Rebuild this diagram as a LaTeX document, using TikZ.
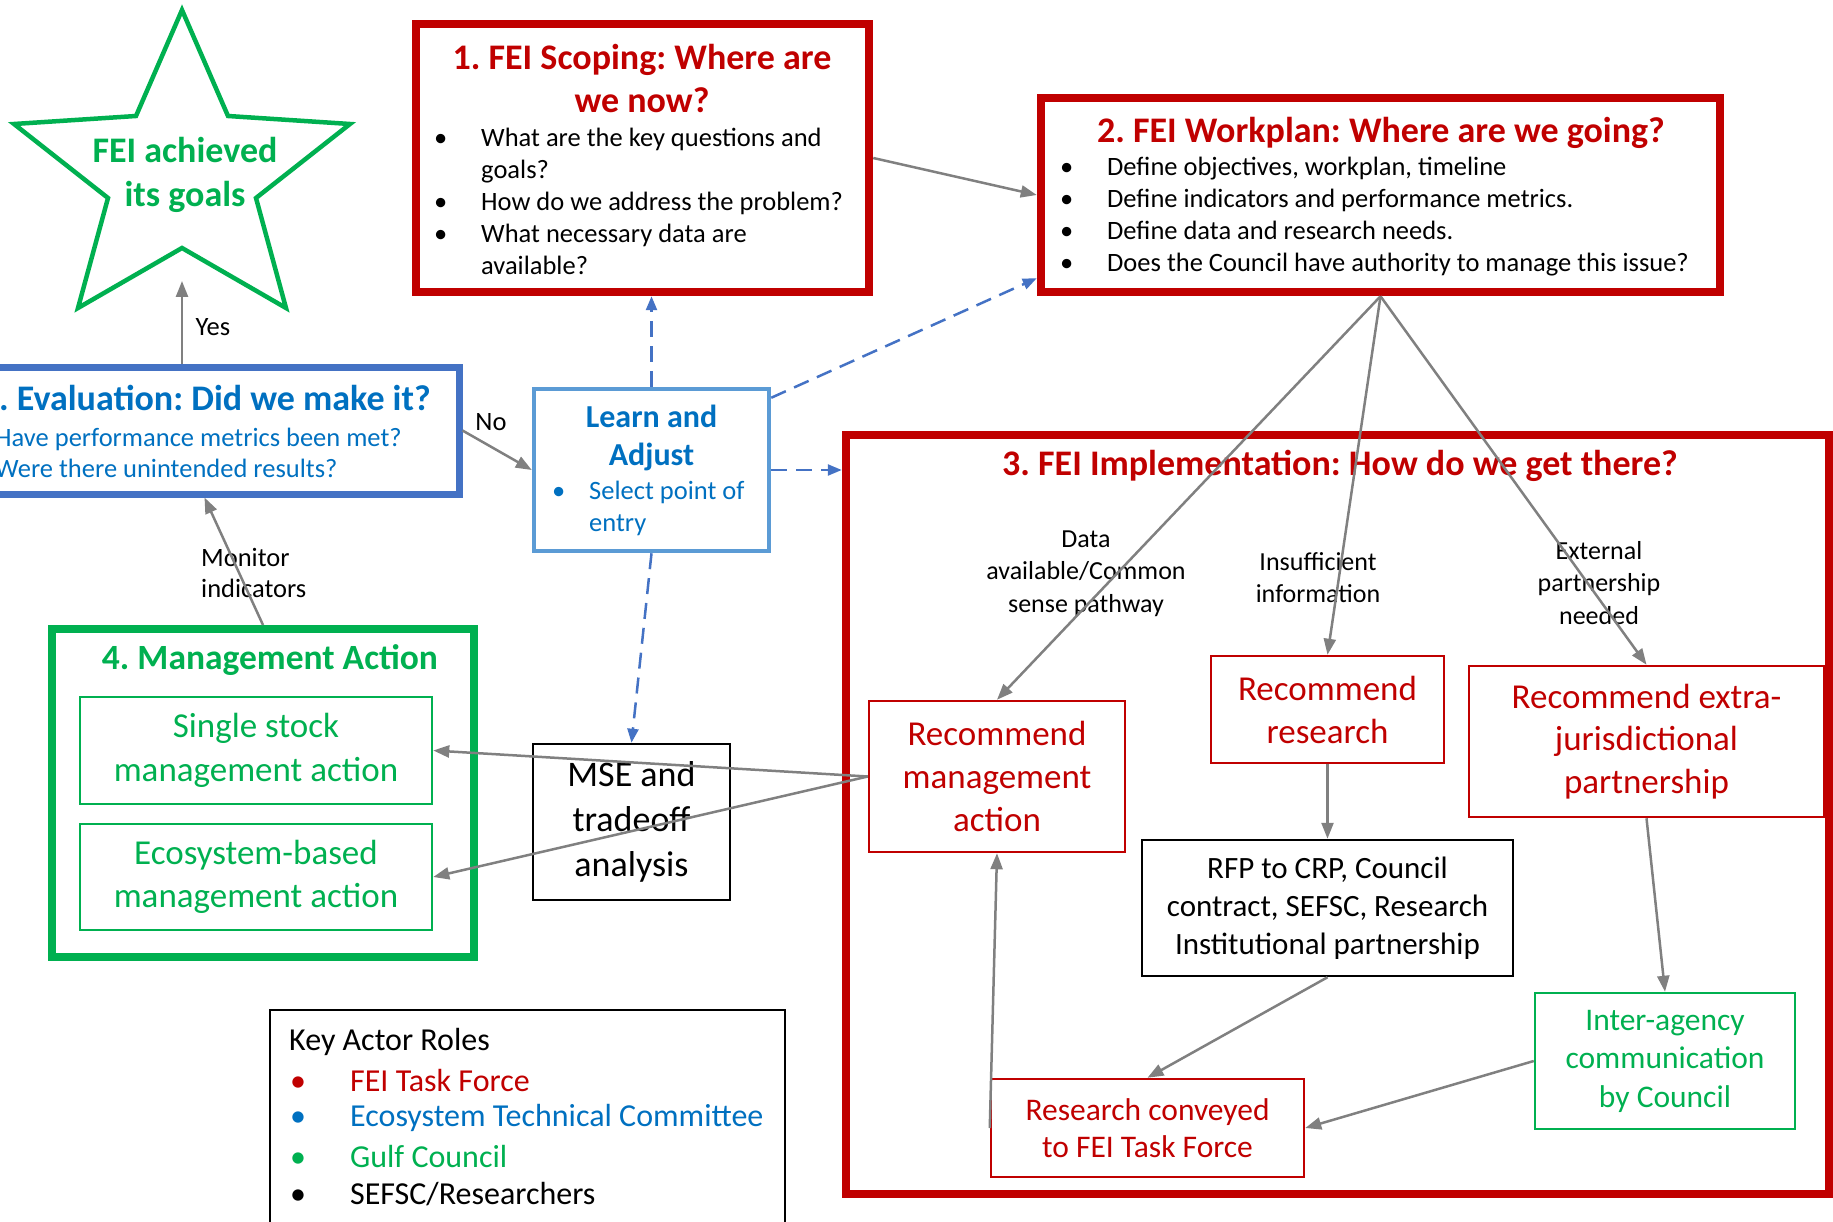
\documentclass[tikz,border=0pt]{standalone}
\usepackage{fontspec}
\setmainfont{Carlito}
\usetikzlibrary{arrows.meta}
\frenchspacing

\definecolor{feired}{HTML}{C00000}
\definecolor{feigreen}{HTML}{00B050}
\definecolor{feiblue}{HTML}{0070C0}
\definecolor{evalblue}{HTML}{4472C4}
\definecolor{learnblue}{HTML}{5B9BD5}
\definecolor{flowgray}{HTML}{808080}

\newcommand{\fsz}[2]{\fontsize{#1}{#2}\selectfont}
\newcommand{\bul}[1][47pt]{\makebox[#1][l]{\textbullet}}

\begin{document}
\begin{tikzpicture}[x=1pt, y=-1pt,
        stagebox/.style={draw=#1, line width=8.5pt},
        actbox/.style={draw=#1, text=#1, line width=2.5pt, align=center, inner sep=0pt},
        ttl/.style={font=\bfseries\fsz{36}{43}, text=#1, align=center, inner sep=0pt},
        body/.style={font=\fsz{26.5}{32}, text=#1, align=left, inner sep=0pt, anchor=west},
        lbl/.style={font=\fsz{26}{32.5}, align=center, inner sep=0pt},
        flow/.style={draw=flowgray, line width=2.5pt, -{Triangle[length=16pt,width=12pt]}},
        adjust/.style={draw=evalblue, line width=2.5pt, dash pattern=on 16pt off 9pt, -{Triangle[length=14pt,width=11pt]}}]
        \useasboundingbox (0,0) rectangle (1833,1222);
        \clip (0,0) rectangle (1833,1222);

        % Goal star
        \draw[draw=feigreen, line width=4.5pt, line join=miter] (182,10) -- (228,116) -- (350,124) -- (256,198) -- (286,308)
            -- (182,248) -- (78,308) -- (108,198) -- (14,124) -- (136,116) -- cycle;
        \node[ttl=feigreen, font=\bfseries\fsz{36}{44}] (goaltxt) at (185,175) {FEI achieved\\its goals};
        \coordinate (goalbase) at (182,281);

        % Stage boxes
        \node[stagebox=feired, minimum width=453pt, minimum height=268pt] (scope) at (642.5,158) {};
        \node[stagebox=feired, minimum width=679pt, minimum height=194pt] (plan) at (1380.5,195) {};
        \node[stagebox=evalblue, line width=7pt, minimum width=469pt, minimum height=127pt] (eval) at (224.5,430.5) {};
        \node[stagebox=learnblue, line width=4.5pt, minimum width=235pt, minimum height=162pt] (learn) at (651.5,470) {};
        \node[stagebox=feired, minimum width=983pt, minimum height=759pt] (impl) at (1337.5,814.5) {};
        \node[stagebox=feigreen, line width=8pt, minimum width=422pt, minimum height=328pt] (mgmt) at (263,793) {};

        % Stage texts
        \node[ttl=feired] (scopettl) at (642,78.5) {1. FEI Scoping: Where are\\we now?};
        \node[body=black] (scopetxt) at (434,201.5) {\bul What are the key questions and\\\hspace*{47pt}goals?\\
            \bul How do we address the problem?\\\bul What necessary data are\\\hspace*{47pt}available?};
        \node[ttl=feired] (planttl) at (1381,133) {2. FEI Workplan: Where are we going?};
        \node[body=black] (plantxt) at (1060,217) {\bul Define objectives, workplan, timeline\\
            \bul Define indicators and performance metrics.\\\bul Define data and research needs.\\
            \bul Does the Council have authority to manage this issue?};
        \node[ttl=feiblue, anchor=west] (evalttl) at (-1,398) {. Evaluation: Did we make it?};
        \node[body=feiblue, font=\fsz{26.5}{31}] (evaltxt) at (-5,452.5) {Have performance metrics been met?\\Were there unintended results?};
        \node[ttl=feiblue, font=\bfseries\fsz{32}{38}] (learnttl) at (651.5,438) {Learn and\\Adjust};
        \node[body=feiblue] (learntxt) at (552,508.5) {\bul[37pt]Select point of\\\hspace*{37pt}entry};
        \node[ttl=feired] (implttl) at (1340,466) {3. FEI Implementation: How do we get there?};
        \node[ttl=feigreen, font=\bfseries\fsz{35.5}{43}] (mgmtttl) at (270,660) {4. Management Action};

        % Action boxes
        \node[actbox=feigreen, font=\fsz{35}{44}, minimum width=352pt, minimum height=107pt] (single) at (256,750.5) {Single stock\\management action};
        \node[actbox=feigreen, font=\fsz{35}{43}, minimum width=352pt, minimum height=106pt] (eco) at (256,877) {Ecosystem-based\\management action};
        \node[actbox=black, font=\fsz{36}{45}, minimum width=197pt, minimum height=156pt] (mse) at (631.5,822) {MSE and\\tradeoff\\analysis};
        \node[actbox=feired, font=\fsz{35}{43}, minimum width=256pt, minimum height=151pt] (rmgmt) at (997,776.5) {Recommend\\management\\action};
        \node[actbox=feired, font=\fsz{35}{43}, minimum width=233pt, minimum height=107pt] (rres) at (1327.5,709.5) {Recommend\\research};
        \node[actbox=feired, font=\fsz{35}{42.5}, minimum width=355pt, minimum height=151pt] (rext) at (1646.5,741.5) {Recommend extra-\\jurisdictional\\partnership};
        \node[actbox=black, font=\fsz{31}{38}, minimum width=371pt, minimum height=136pt] (rfp) at (1327.5,908) {RFP to CRP, Council\\contract, SEFSC, Research\\Institutional partnership};
        \node[actbox=feigreen, font=\fsz{31.5}{38.5}, minimum width=260pt, minimum height=136pt] (inter) at (1665,1061) {Inter-agency\\communication\\by Council};
        \node[actbox=feired, font=\fsz{31.5}{37.5}, minimum width=313pt, minimum height=98pt] (conv) at (1147.5,1128) {Research conveyed\\to FEI Task Force};

        % Pathway labels
        \node[lbl] (datalbl) at (1086,573.5) {Data\\available/Common\\sense pathway};
        \node[lbl] (reslbl) at (1318,577.5) {Insufficient\\information};
        \node[lbl] (extlbl) at (1599,583) {External\\partnership\\needed};
        \node[lbl, font=\fsz{26.5}{32}] (yes) at (213,327) {Yes};
        \node[lbl, font=\fsz{26.5}{32}] (no) at (491,422) {No};
        \node[body=black, font=\fsz{26.5}{31}] (monitor) at (201,572.5) {Monitor\\indicators};

        % Key actor roles
        \node[draw, line width=2pt, minimum width=515pt, minimum height=230pt] (key) at (527.5,1125) {};
        \node[body=black, font=\fsz{32}{38}] (keyttl) at (289,1042) {Key Actor Roles};
        \foreach \txt/\col [count=\i] in {FEI Task Force/feired, Ecosystem Technical Committee/feiblue, Gulf Council/feigreen, {SEFSC/Researchers}/black} {
            \node[body=\col, font=\fsz{32}{38}] (role\i) at (290,{1042+38*\i}) {\bul[60pt]\txt};
        }

        % Flow connectors
        \draw[flow] (scope.east) -- (plan.west);
        \draw[flow] (eval.north -| goalbase) -- (goalbase);
        \draw[flow] (eval.east) -- (learn.west);
        \draw[flow] (mgmt.north) -- ([xshift=-20pt]eval.south);
        \foreach \b in {rmgmt, rres, rext} {
            \draw[flow] (plan.south) -- (\b.north);
        }
        \draw[flow] (rmgmt.west) -- (single.east);
        \draw[flow] (rmgmt.west) -- (eco.east);
        \draw[flow] (rres.south) -- (rfp.north);
        \draw[flow] (rfp.south) -- (conv.north);
        \draw[flow] (conv.west) -- (rmgmt.south);
        \draw[flow] (rext.south) -- (inter.north);
        \draw[flow] (inter.west) -- (conv.east);

        % Learn and adjust connectors
        \draw[adjust] (learn.north) -- (learn.north |- scope.south);
        \draw[adjust] ([yshift=-11pt]learn.north east) -- ([yshift=18pt]plan.south west);
        \draw[adjust] (learn.east) -- (learn.east -| impl.west);
        \draw[adjust] (learn.south) -- (mse.north);
    \end{tikzpicture}
\end{document}
